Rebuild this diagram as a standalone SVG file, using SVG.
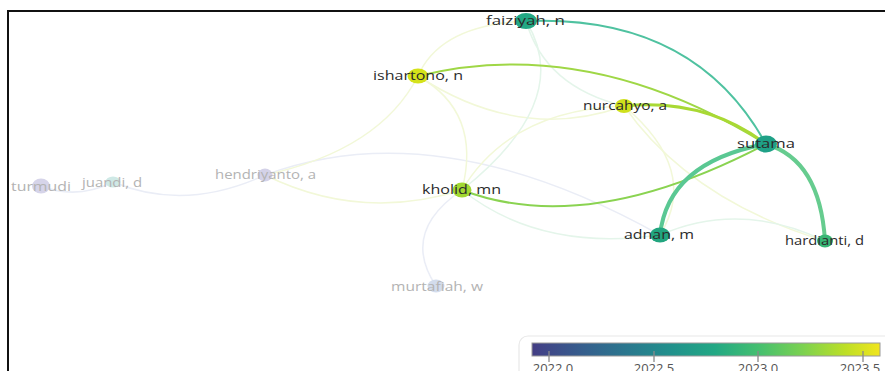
<svg xmlns="http://www.w3.org/2000/svg" width="885" height="371" viewBox="0 0 885 371">
<defs>
<linearGradient id="viridis" x1="0" y1="0" x2="1" y2="0">
<stop offset="0" stop-color="#433d84"/>
<stop offset="0.025" stop-color="#414487"/>
<stop offset="0.15" stop-color="#355f8d"/>
<stop offset="0.275" stop-color="#2a788e"/>
<stop offset="0.4" stop-color="#21918c"/>
<stop offset="0.525" stop-color="#22a884"/>
<stop offset="0.65" stop-color="#44bf70"/>
<stop offset="0.775" stop-color="#7ad151"/>
<stop offset="0.9" stop-color="#bddf26"/>
<stop offset="1" stop-color="#f1e51d"/>
</linearGradient>
<style>
.edge{fill:none;stroke-linecap:round}
.fy{stroke:#f2f8d8;stroke-width:1.5}
.fg{stroke:#e4f5ea;stroke-width:1.5}
.fb{stroke:#eaedf6;stroke-width:1.5}
.lbl{font-family:"Open Sans","DejaVu Sans",sans-serif;font-size:13.5px;fill:#2b2b2b;text-anchor:middle}
.dim{fill:#b3b3b3}
.tick{stroke:#8a8a8a;stroke-width:1.3}
.tl{font-family:"Open Sans","DejaVu Sans",sans-serif;font-size:13px;fill:#555;text-anchor:middle}
</style>
</defs>
<rect x="0" y="0" width="885" height="371" fill="#ffffff"/>
<path d="M8,372 V11 H886" fill="none" stroke="#111" stroke-width="2"/>

<g id="connectors">
<path class="edge fb" d="M41,186 Q77,200 113,182"/>
<path class="edge fb" d="M113,182 Q185,212 265,175"/>
<path class="edge fb" d="M265,175 Q438,111 660,235"/>
<path class="edge fy" d="M265,175 Q360,222 462,190"/>
<path class="edge fy" d="M418,76 Q380,150 265,175"/>
<path class="edge fy" d="M418,76 Q440,25 526,21"/>
<path class="edge fy" d="M418,76 Q521,143 624,106"/>
<path class="edge fy" d="M418,76 Q482,112 462,190"/>
<path class="edge fg" d="M526,21 Q575,100 462,190"/>
<path class="edge fg" d="M526,21 Q545,87 624,106"/>
<path class="edge fy" d="M462,190 Q510,110 624,106"/>
<path class="edge fb" d="M462,190 Q400,232 436,286"/>
<path class="edge fg" d="M462,190 Q540,252 660,235"/>
<path class="edge fy" d="M624,106 Q700,170 660,235"/>
<path class="edge fy" d="M624,106 Q690,200 825,241"/>
<path class="edge fg" d="M660,235 Q740,200 825,241"/>
<path class="edge" d="M526,21 Q694,14 766,144" stroke="#4fc2a0" stroke-width="2"/>
<path class="edge" d="M418,76 Q588,34 766,144" stroke="#9fd746" stroke-width="2"/>
<path class="edge" d="M624,106 Q705,98 766,144" stroke="#a9d934" stroke-width="3"/>
<path class="edge" d="M462,190 Q587,238 766,144" stroke="#8ad351" stroke-width="2"/>
<path class="edge" d="M660,235 Q668,162 766,144" stroke="#5ac893" stroke-width="4"/>
<path class="edge" d="M766,144 Q820,160 825,241" stroke="#66cc8f" stroke-width="4"/>
</g>

<g id="node-turmudi"><ellipse cx="41" cy="186" rx="9" ry="7.5" fill="#d6d4e9"/><text class="lbl dim" x="41" y="191" textLength="60" lengthAdjust="spacingAndGlyphs">turmudi</text></g>
<g id="node-juandi"><ellipse cx="113" cy="182" rx="7.5" ry="5.5" fill="#cfe9e6"/><text class="lbl dim" x="112" y="187" textLength="60" lengthAdjust="spacingAndGlyphs">juandi, d</text></g>
<g id="node-hendriyanto"><ellipse cx="265" cy="175" rx="7.5" ry="6.5" fill="#d4d2e8"/><text class="lbl dim" x="265.5" y="179" textLength="101" lengthAdjust="spacingAndGlyphs">hendriyanto, a</text></g>
<g id="node-murtafiah"><ellipse cx="436" cy="286" rx="8.5" ry="6.5" fill="#d3dcec"/><text class="lbl dim" x="437" y="291" textLength="92" lengthAdjust="spacingAndGlyphs">murtafiah, w</text></g>
<g id="node-faiziyah"><ellipse cx="526" cy="21" rx="11" ry="8" fill="#22a884"/><text class="lbl" x="525.5" y="25" textLength="79" lengthAdjust="spacingAndGlyphs">faiziyah, n</text></g>
<g id="node-ishartono"><ellipse cx="418" cy="76" rx="10.5" ry="7.5" fill="#d5e21a"/><text class="lbl" x="418" y="80" textLength="90" lengthAdjust="spacingAndGlyphs">ishartono, n</text></g>
<g id="node-nurcahyo"><ellipse cx="624" cy="106" rx="9" ry="7" fill="#cfe01c"/><text class="lbl" x="625" y="110" textLength="84" lengthAdjust="spacingAndGlyphs">nurcahyo, a</text></g>
<g id="node-sutama"><ellipse cx="766" cy="144" rx="11" ry="8.5" fill="#1fa187"/><text class="lbl" x="766" y="148" textLength="58" lengthAdjust="spacingAndGlyphs">sutama</text></g>
<g id="node-kholid"><ellipse cx="462" cy="190" rx="9.5" ry="7.5" fill="#a2d832"/><text class="lbl" x="461.5" y="194" textLength="79" lengthAdjust="spacingAndGlyphs">kholid, mn</text></g>
<g id="node-adnan"><ellipse cx="660" cy="235" rx="10" ry="7.5" fill="#22a57f"/><text class="lbl" x="659" y="239" textLength="70" lengthAdjust="spacingAndGlyphs">adnan, m</text></g>
<g id="node-hardianti"><ellipse cx="825" cy="241" rx="8" ry="6.5" fill="#38b675"/><text class="lbl" x="824.5" y="245" textLength="79" lengthAdjust="spacingAndGlyphs">hardianti, d</text></g>

<g id="legend">
<rect x="519" y="336" width="380" height="50" rx="9" fill="#ffffff" stroke="#e8e8e8" stroke-width="1.2"/>
<rect x="532" y="343" width="348" height="13" fill="url(#viridis)" stroke="#9a9a9a" stroke-width="1"/>
<line class="tick" x1="549" y1="351" x2="549" y2="362"/>
<line class="tick" x1="654" y1="351" x2="654" y2="362"/>
<line class="tick" x1="758" y1="351" x2="758" y2="362"/>
<line class="tick" x1="863" y1="351" x2="863" y2="362"/>
<text class="tl" x="553" y="373">2022.0</text>
<text class="tl" x="654" y="373">2022.5</text>
<text class="tl" x="758" y="373">2023.0</text>
<text class="tl" x="860" y="373">2023.5</text>
</g>
</svg>
